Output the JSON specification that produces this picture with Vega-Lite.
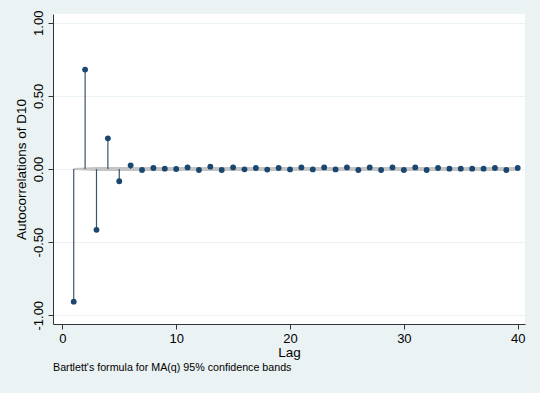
{
  "$schema": "https://vega.github.io/schema/vega-lite/v6.json",
  "width": 472,
  "height": 310,
  "autosize": {"type": "none"},
  "padding": {"left": 53, "top": 14, "right": 15, "bottom": 69},
  "background": "#eaf2f3",
  "config": {
    "view": {"fill": "white", "stroke": null},
    "font": "Liberation Sans",
    "axis": {
      "domainColor": "#333333",
      "tickColor": "#333333",
      "labelColor": "#000000",
      "titleColor": "#000000",
      "labelFont": "Liberation Sans",
      "titleFont": "Liberation Sans",
      "titleFontWeight": "normal",
      "labelFontSize": 13,
      "titleFontSize": 13.5,
      "tickSize": 5
    }
  },
  "title": {
    "text": "Bartlett's formula for MA(q) 95% confidence bands",
    "orient": "bottom",
    "anchor": "start",
    "frame": "group",
    "fontSize": 10.7,
    "fontWeight": "normal",
    "font": "Liberation Sans",
    "color": "#000000",
    "offset": 4
  },
  "data": {
    "values": [
      {"lag": 1, "r": -0.907, "lo": -0.007, "hi": 0.007},
      {"lag": 2, "r": 0.68, "lo": -0.011, "hi": 0.011},
      {"lag": 3, "r": -0.416, "lo": -0.013, "hi": 0.013},
      {"lag": 4, "r": 0.21, "lo": -0.014, "hi": 0.014},
      {"lag": 5, "r": -0.084, "lo": -0.014, "hi": 0.014},
      {"lag": 6, "r": 0.025, "lo": -0.014, "hi": 0.014},
      {"lag": 7, "r": -0.007, "lo": -0.014, "hi": 0.014},
      {"lag": 8, "r": 0.007, "lo": -0.014, "hi": 0.014},
      {"lag": 9, "r": 0.002, "lo": -0.014, "hi": 0.014},
      {"lag": 10, "r": 0.0, "lo": -0.014, "hi": 0.014},
      {"lag": 11, "r": 0.011, "lo": -0.014, "hi": 0.014},
      {"lag": 12, "r": -0.007, "lo": -0.014, "hi": 0.014},
      {"lag": 13, "r": 0.016, "lo": -0.014, "hi": 0.014},
      {"lag": 14, "r": -0.007, "lo": -0.014, "hi": 0.014},
      {"lag": 15, "r": 0.011, "lo": -0.014, "hi": 0.014},
      {"lag": 16, "r": -0.002, "lo": -0.014, "hi": 0.014},
      {"lag": 17, "r": 0.007, "lo": -0.014, "hi": 0.014},
      {"lag": 18, "r": -0.004, "lo": -0.014, "hi": 0.014},
      {"lag": 19, "r": 0.007, "lo": -0.014, "hi": 0.014},
      {"lag": 20, "r": -0.003, "lo": -0.014, "hi": 0.014},
      {"lag": 21, "r": 0.011, "lo": -0.014, "hi": 0.014},
      {"lag": 22, "r": -0.003, "lo": -0.014, "hi": 0.014},
      {"lag": 23, "r": 0.011, "lo": -0.014, "hi": 0.014},
      {"lag": 24, "r": -0.003, "lo": -0.014, "hi": 0.014},
      {"lag": 25, "r": 0.011, "lo": -0.014, "hi": 0.014},
      {"lag": 26, "r": -0.007, "lo": -0.014, "hi": 0.014},
      {"lag": 27, "r": 0.011, "lo": -0.014, "hi": 0.014},
      {"lag": 28, "r": -0.007, "lo": -0.014, "hi": 0.014},
      {"lag": 29, "r": 0.011, "lo": -0.014, "hi": 0.014},
      {"lag": 30, "r": -0.007, "lo": -0.014, "hi": 0.014},
      {"lag": 31, "r": 0.011, "lo": -0.014, "hi": 0.014},
      {"lag": 32, "r": -0.007, "lo": -0.014, "hi": 0.014},
      {"lag": 33, "r": 0.007, "lo": -0.014, "hi": 0.014},
      {"lag": 34, "r": 0.002, "lo": -0.014, "hi": 0.014},
      {"lag": 35, "r": 0.002, "lo": -0.014, "hi": 0.014},
      {"lag": 36, "r": 0.002, "lo": -0.014, "hi": 0.014},
      {"lag": 37, "r": 0.002, "lo": -0.014, "hi": 0.014},
      {"lag": 38, "r": 0.007, "lo": -0.014, "hi": 0.014},
      {"lag": 39, "r": -0.007, "lo": -0.014, "hi": 0.014},
      {"lag": 40, "r": 0.007, "lo": -0.014, "hi": 0.014}
    ]
  },
  "encoding": {
    "x": {
      "field": "lag",
      "type": "quantitative",
      "scale": {"domain": [-0.82, 40.64], "nice": false, "zero": false},
      "axis": {
        "values": [0, 10, 20, 30, 40],
        "grid": false,
        "title": "Lag",
        "labelPadding": 3,
        "titlePadding": 0
      }
    }
  },
  "layer": [
    {
      "mark": {"type": "area", "color": "#c4c4c4", "opacity": 1},
      "encoding": {
        "y": {
          "field": "lo",
          "type": "quantitative",
          "scale": {"domain": [-1.06, 1.06], "nice": false, "zero": false},
          "axis": {
            "values": [-1, -0.5, 0, 0.5, 1],
            "format": ".2f",
            "labelExpr": "replace(datum.label, '\u2212', '-')",
            "grid": true,
            "gridColor": "#eaf2f3",
            "gridWidth": 1,
            "labelAngle": -90,
            "labelAlign": "center",
            "labelBaseline": "bottom",
            "labelPadding": 3,
            "title": "Autocorrelations of D10",
            "titlePadding": 4
          }
        },
        "y2": {"field": "hi"}
      }
    },
    {
      "mark": {"type": "rule", "color": "#3f5366", "strokeWidth": 1.2},
      "encoding": {
        "y": {"field": "r", "type": "quantitative"},
        "y2": {"datum": 0}
      }
    },
    {
      "mark": {"type": "point", "filled": true, "shape": "circle", "size": 34, "color": "#1a476f", "opacity": 1},
      "encoding": {
        "y": {"field": "r", "type": "quantitative"}
      }
    }
  ]
}
